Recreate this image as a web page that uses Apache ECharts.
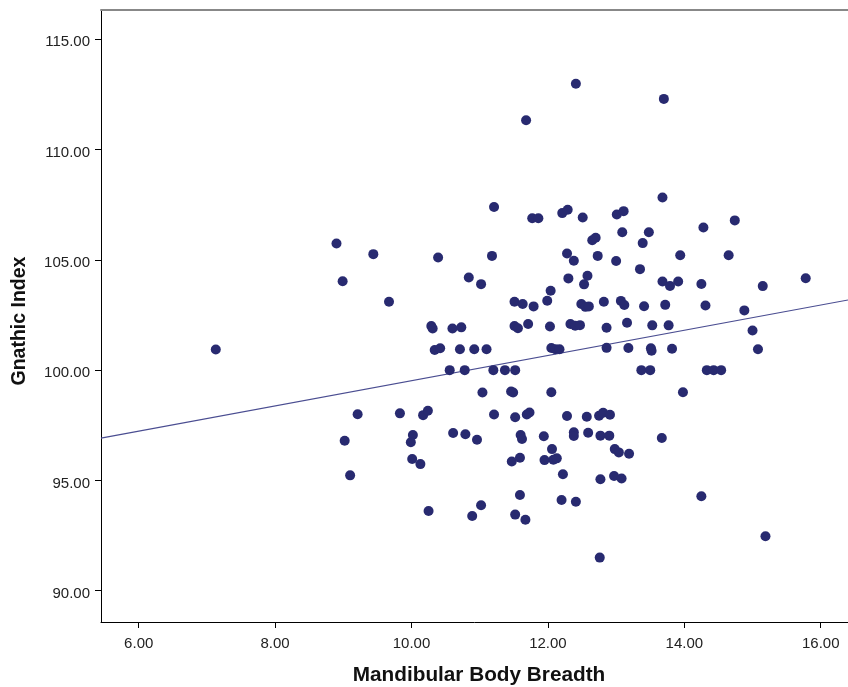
<!DOCTYPE html>
<html>
<head>
<meta charset="utf-8">
<script src="https://cdn.jsdelivr.net/npm/echarts@6/dist/echarts.min.js"></script>
<style>
html,body{margin:0;padding:0;background:#fff;}
#chart{width:848px;height:687px;}
</style>
</head>
<body>
<div id="chart"></div>
<script>
// Mandibular Body Breadth (x) vs Gnathic Index (y)
var breadth = [
  7.13, 8.90, 8.99, 9.44, 9.67, 9.21, 9.02, 9.10, 9.83, 10.17,
  10.24, 10.02, 9.99, 10.01, 10.13, 10.25, 10.29, 10.31, 10.34, 10.42,
  10.39, 10.56, 10.60, 10.73, 10.61, 10.71, 10.78, 10.79, 10.84, 10.89,
  10.92, 10.96, 11.02, 11.02, 11.04, 11.10, 11.18, 11.20, 11.21, 11.21,
  11.37, 11.46, 11.49, 11.47, 11.51, 11.51, 11.52, 11.52, 11.52, 11.56,
  11.59, 11.59, 11.60, 11.62, 11.63, 11.67, 11.68, 11.69, 11.71, 11.73,
  11.77, 11.79, 11.86, 11.94, 11.95, 11.99, 12.04, 12.03, 12.05, 12.05,
  12.06, 12.08, 12.13, 12.11, 12.17, 12.21, 12.29, 12.41, 12.51, 12.65,
  12.70, 12.28, 12.38, 12.73, 13.00, 13.94, 14.65, 13.35, 12.30, 12.58,
  12.53, 13.68, 13.79, 13.91, 14.25, 12.49, 12.55, 12.60, 12.82, 13.07,
  13.12, 13.41, 13.72, 14.31, 14.88, 12.33, 12.40, 12.47, 12.86, 13.16,
  13.53, 13.77, 15.00, 15.08, 12.86, 13.18, 13.51, 13.52, 13.82, 13.37,
  13.50, 14.33, 14.43, 14.54, 13.98, 12.28, 12.57, 12.75, 12.81, 12.91,
  12.38, 12.38, 12.59, 12.77, 12.90, 13.67, 12.98, 13.04, 13.19, 12.22,
  12.77, 12.97, 13.08, 12.20, 12.41, 14.25, 15.19, 12.76, 13.70, 13.68,
  13.01, 13.11, 13.09, 13.48, 13.39, 14.28, 14.74, 15.78, 15.15
];
var gnathic = [
  100.94, 105.74, 104.03, 105.26, 103.10, 98.00, 96.80, 95.23, 98.04, 97.96,
  98.16, 97.06, 96.73, 95.97, 95.74, 93.61, 102.00, 101.89, 100.91, 100.99,
  105.11, 100.00, 101.89, 101.94, 97.15, 100.95, 100.00, 97.09, 104.20, 93.39,
  100.95, 96.84, 103.90, 93.87, 98.99, 100.95, 105.18, 100.00, 107.40, 97.99,
  100.00, 99.03, 98.99, 95.86, 103.10, 102.00, 100.00, 97.86, 93.45, 101.90,
  96.03, 94.34, 97.06, 96.88, 103.00, 93.22, 111.33, 97.99, 102.09, 98.08,
  106.89, 102.89, 106.89, 97.00, 95.92, 103.15, 103.60, 101.98, 101.00, 99.00,
  96.42, 95.94, 96.00, 100.95, 100.95, 107.12, 107.27, 112.99, 106.92, 105.89,
  106.00, 105.29, 104.96, 105.18, 104.95, 105.21, 105.21, 104.58, 104.16, 104.28,
  103.89, 104.02, 103.82, 104.02, 103.91, 103.00, 102.87, 102.89, 103.10, 103.14,
  102.95, 102.90, 102.96, 102.93, 102.71, 102.09, 102.01, 102.04, 101.92, 102.15,
  102.03, 102.03, 101.80, 100.95, 101.01, 101.00, 100.99, 100.88, 100.97, 100.00,
  100.00, 100.00, 100.00, 100.00, 99.00, 97.92, 97.89, 97.93, 98.07, 97.98,
  97.18, 97.01, 97.16, 97.03, 97.03, 96.92, 96.42, 96.27, 96.21, 95.28,
  95.05, 95.20, 95.09, 94.11, 94.03, 94.28, 92.47, 91.50, 112.30, 107.83,
  107.06, 107.21, 106.25, 106.25, 105.76, 106.47, 106.79, 104.17, 103.81
];
// Fit line end points
var fitX = [5.447, 16.40];
var fitY = [96.92, 103.18];
var xTicks = [6, 8, 10, 12, 14, 16];
var yTicks = [90, 95, 100, 105, 110, 115];
var xTitle = 'Mandibular Body Breadth';
var yTitle = 'Gnathic Index';

var points = breadth.map(function (x, i) { return [x, gnathic[i]]; });
var fitLine = fitX.map(function (x, i) { return [x, fitY[i]]; });

var XMIN = 5.447, XMAX = 16.40, YMIN = 88.58, YMAX = 116.33;
var fmt = function (v) { return Number(v).toFixed(2); };
var FONT = 'Liberation Sans, Arial, sans-serif';
var labelStyle = { fontFamily: FONT, fontSize: 15, color: '#222' };

var chart = echarts.init(document.getElementById('chart'), null, { renderer: 'canvas' });
chart.setOption({
  animation: false,
  backgroundColor: '#ffffff',
  grid: { left: 101, right: 0, top: 10, bottom: 65, containLabel: false },
  xAxis: [{
    type: 'value', min: XMIN, max: XMAX, position: 'bottom',
    axisLine: { show: true, onZero: false, lineStyle: { color: '#000', width: 1 } },
    axisTick: { show: true, length: 6, customValues: xTicks, lineStyle: { color: '#000' } },
    axisLabel: Object.assign({ show: true, margin: 14, customValues: xTicks, formatter: fmt }, labelStyle),
    splitLine: { show: false }
  }, {
    type: 'value', min: XMIN, max: XMAX, position: 'top',
    axisLine: { show: true, onZero: false, lineStyle: { color: '#888', width: 2 } },
    axisTick: { show: false }, axisLabel: { show: false }, splitLine: { show: false }
  }],
  yAxis: [{
    type: 'value', min: YMIN, max: YMAX,
    axisLine: { show: true, onZero: false, lineStyle: { color: '#000', width: 1 } },
    axisTick: { show: true, length: 6, customValues: yTicks, lineStyle: { color: '#000' } },
    axisLabel: Object.assign({ show: true, margin: 11, customValues: yTicks, formatter: fmt, verticalAlign: 'top', lineHeight: 6 }, labelStyle),
    splitLine: { show: false }
  }],
  graphic: [{
    type: 'text', x: 479, y: 675,
    style: { text: xTitle, font: 'bold 20.75px ' + FONT, fill: '#111', align: 'center', verticalAlign: 'middle' }
  }, {
    type: 'text', x: 20, y: 321, rotation: Math.PI / 2,
    style: { text: yTitle, font: 'bold 19.5px ' + FONT, fill: '#111', align: 'center', verticalAlign: 'middle' }
  }],
  series: [{
    type: 'line', data: fitLine, xAxisIndex: 0, yAxisIndex: 0,
    showSymbol: false, symbol: 'none', silent: true,
    lineStyle: { color: '#4a4d91', width: 1.2 }, z: 2
  }, {
    type: 'scatter', data: points, xAxisIndex: 0, yAxisIndex: 0,
    symbol: 'circle', symbolSize: 10,
    itemStyle: { color: '#282a70', opacity: 1 }, z: 3
  }]
});
</script>
</body>
</html>
